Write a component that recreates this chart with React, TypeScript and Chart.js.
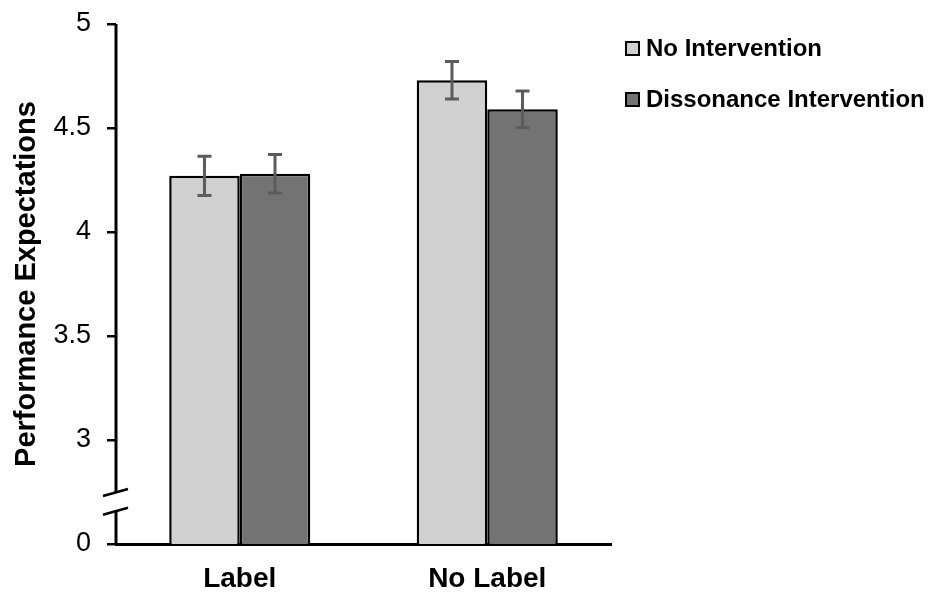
import React, { useEffect, useRef } from "react";
import { Chart, registerables } from "chart.js";

Chart.register(...registerables);

const categories = ["Label", "No Label"];
const seriesNames = ["No Intervention", "Dissonance Intervention"];
const noIntervention = [4.27, 4.73];
const dissonance = [4.28, 4.59];
const noInterventionErr = [0.094, 0.09];
const dissonanceErr = [0.092, 0.088];
const yTickValues = [2.5, 3, 3.5, 4, 4.5, 5];
const yTickLabels = ["0", "3", "3.5", "4", "4.5", "5"];
const axisBreak = [2.655, 2.745];
const yTitle = "Performance Expectations";

const colors = ["#d0d0d0", "#737373"];
const errs = [noInterventionErr, dissonanceErr];
const FONT = "'Liberation Sans', Arial, sans-serif";

const errorBarPlugin = {
  id: "errorBars",
  afterDatasetsDraw(chart: any) {
    const ctx = chart.ctx;
    const y = chart.scales.y;
    ctx.save();
    ctx.strokeStyle = "#5c5c5c";
    ctx.lineWidth = 3;
    chart.data.datasets.forEach((ds: any, i: number) => {
      const meta = chart.getDatasetMeta(i);
      meta.data.forEach((bar: any, j: number) => {
        const v = ds.data[j];
        const e = errs[i][j];
        const yt = y.getPixelForValue(v + e);
        const yb = y.getPixelForValue(v - e);
        const cx = bar.x;
        ctx.beginPath();
        ctx.moveTo(cx, yt);
        ctx.lineTo(cx, yb);
        ctx.moveTo(cx - 7, yt);
        ctx.lineTo(cx + 7, yt);
        ctx.moveTo(cx - 7, yb);
        ctx.lineTo(cx + 7, yb);
        ctx.stroke();
      });
    });
    ctx.restore();
  },
};

const brokenAxisPlugin = {
  id: "brokenAxis",
  afterDraw(chart: any) {
    const ctx = chart.ctx;
    const y = chart.scales.y;
    const { left, top, bottom } = chart.chartArea;
    const yUp = y.getPixelForValue(axisBreak[1]);
    const yLo = y.getPixelForValue(axisBreak[0]);
    ctx.save();
    ctx.strokeStyle = "#000";
    ctx.lineWidth = 3;
    ctx.beginPath();
    ctx.moveTo(left, top);
    ctx.lineTo(left, yUp);
    ctx.moveTo(left, yLo);
    ctx.lineTo(left, bottom);
    ctx.stroke();
    ctx.lineWidth = 2.5;
    ctx.beginPath();
    [yUp, yLo].forEach((yy) => {
      ctx.moveTo(left - 13, yy + 3);
      ctx.lineTo(left + 12, yy - 4);
    });
    ctx.stroke();
    ctx.restore();
  },
};

const legendPlugin = {
  id: "customLegend",
  afterDraw(chart: any) {
    const ctx = chart.ctx;
    const { right, top } = chart.chartArea;
    ctx.save();
    ctx.font = `bold 24px ${FONT}`;
    ctx.textBaseline = "middle";
    seriesNames.forEach((name, i) => {
      const cy = top + 24 + i * 51;
      const bx = right + 15;
      ctx.fillStyle = colors[i];
      ctx.fillRect(bx, cy - 6, 13, 13);
      ctx.strokeStyle = "#000";
      ctx.lineWidth = 2;
      ctx.strokeRect(bx, cy - 6, 13, 13);
      ctx.fillStyle = "#000";
      ctx.fillText(name, bx + 20, cy + 1);
    });
    ctx.restore();
  },
};

export default function App() {
  const ref = useRef<HTMLCanvasElement>(null);
  useEffect(() => {
    document.body.style.margin = "0";
    const chart = new Chart(ref.current!, {
      type: "bar",
      data: {
        labels: categories,
        datasets: [
          {
            label: seriesNames[0],
            data: noIntervention,
            backgroundColor: colors[0],
            borderColor: "#000",
            borderWidth: 2.5,
            borderSkipped: false,
          },
          {
            label: seriesNames[1],
            data: dissonance,
            backgroundColor: colors[1],
            borderColor: "#000",
            borderWidth: 2.5,
            borderSkipped: false,
          },
        ],
      },
      options: {
        animation: false,
        responsive: true,
        maintainAspectRatio: false,
        layout: { padding: { top: 24, right: 325, bottom: 0, left: 0 } },
        datasets: { bar: { categoryPercentage: 0.57, barPercentage: 1.0 } },
        plugins: { legend: { display: false }, tooltip: { enabled: false } },
        scales: {
          x: {
            grid: { display: false },
            border: { display: true, color: "#000", width: 3 },
            ticks: {
              color: "#000",
              padding: 10,
              font: { family: FONT, size: 28, weight: "bold" },
            },
            afterFit: (s: any) => {
              s.height = 50;
              s.paddingLeft = 0;
              s.paddingRight = 0;
            },
          },
          y: {
            min: 2.5,
            max: 5,
            border: { display: false },
            grid: {
              drawOnChartArea: false,
              drawTicks: true,
              tickLength: 9,
              color: "#000",
              lineWidth: 2.5,
            },
            afterBuildTicks: (s: any) => {
              s.ticks = yTickValues.map((v) => ({ value: v }));
            },
            ticks: {
              color: "#000",
              padding: 16,
              font: { family: FONT, size: 27 },
              callback: (v: any) => {
                const idx = yTickValues.indexOf(Number(v));
                return idx >= 0 ? yTickLabels[idx] : "";
              },
            },
            title: {
              display: true,
              text: yTitle,
              color: "#000",
              font: { family: FONT, size: 29, weight: "bold" },
              padding: { top: 10, bottom: 0 },
            },
            afterFit: (s: any) => {
              s.width = 116;
              s.paddingTop = 0;
              s.paddingBottom = 0;
            },
          },
        },
      },
      plugins: [errorBarPlugin, brokenAxisPlugin, legendPlugin],
    });
    return () => chart.destroy();
  }, []);
  return (
    <div style={{ width: 936, height: 594, position: "relative", background: "#fff" }}>
      <canvas ref={ref} />
    </div>
  );
}
